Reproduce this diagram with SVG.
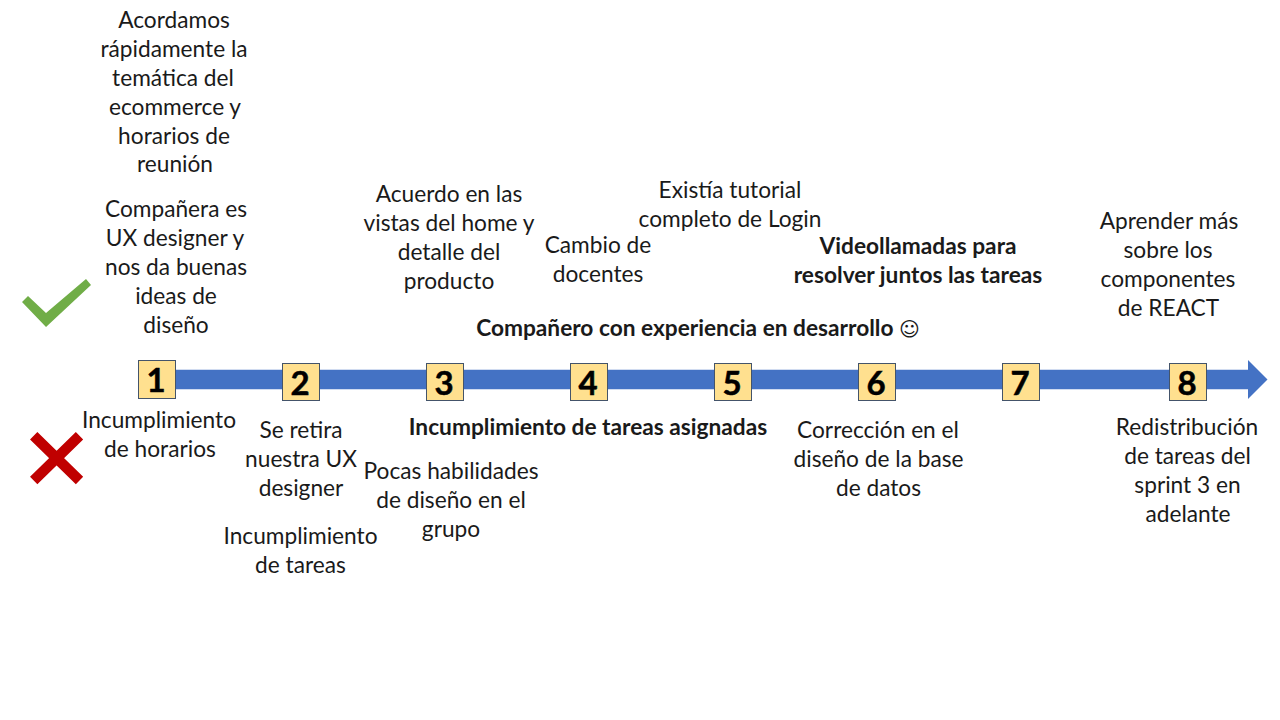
<svg xmlns="http://www.w3.org/2000/svg" width="1280" height="720" viewBox="0 0 1280 720">
<style>
.t{font-family:"Lato","Carlito","Open Sans",sans-serif;font-size:22.7px;fill:#1a1a1a;text-anchor:middle}
.b{font-weight:700}
.box{fill:#ffe08f;stroke:#44546a;stroke-width:1}
.n{font-family:"Lato","Open Sans",sans-serif;font-size:33px;font-weight:700;stroke:#000;stroke-width:.5;fill:#000;text-anchor:middle}
</style>
<rect width="1280" height="720" fill="#fff"/>
<g id="connectors">
<path id="timeline" d="M150 369.7H1248V360L1267.5 379.5L1248 399V389.3H150Z" fill="#4472c4"/>
</g>
<g id="icon-check"><path d="M22 302L28 296L46 313L86 279L91 285L46 327Z" fill="#70ad47"/></g>
<g id="icon-cross"><path d="M33.7 435.8L79.5 480.5M79.5 435.8L33.7 480.5" fill="none" stroke="#c00000" stroke-width="10.5"/></g>
<g id="node-1"><rect class="box" x="138.5" y="360.5" width="37" height="38"/><text class="n" x="156" y="391.5">1</text></g>
<g id="node-2"><rect class="box" x="282.5" y="363.5" width="37" height="37"/><text class="n" x="300" y="394.5">2</text></g>
<g id="node-3"><rect class="box" x="426.5" y="363.5" width="37" height="37"/><text class="n" x="444" y="394.5">3</text></g>
<g id="node-4"><rect class="box" x="570.5" y="363.5" width="37" height="37"/><text class="n" x="588" y="394.5">4</text></g>
<g id="node-5"><rect class="box" x="714.5" y="363.5" width="37" height="37"/><text class="n" x="732" y="394.5">5</text></g>
<g id="node-6"><rect class="box" x="858.5" y="363.5" width="37" height="37"/><text class="n" x="876" y="394.5">6</text></g>
<g id="node-7"><rect class="box" x="1002.5" y="363.5" width="37" height="37"/><text class="n" x="1020" y="394.5">7</text></g>
<g id="node-8"><rect class="box" x="1169.5" y="363.5" width="37" height="37"/><text class="n" x="1187" y="394.5">8</text></g>
<g id="labels" transform="translate(0 .6)">
<text class="t" x="174" y="27">Acordamos</text>
<text class="t" x="174" y="56">rápidamente la</text>
<text class="t" x="173" y="85">temática del</text>
<text class="t" x="175" y="114">ecommerce y</text>
<text class="t" x="174" y="143">horarios de</text>
<text class="t" x="175" y="171">reunión</text>
<text class="t" x="176" y="216">Compañera es</text>
<text class="t" x="175" y="245">UX designer y</text>
<text class="t" x="176" y="274">nos da buenas</text>
<text class="t" x="176" y="303">ideas de</text>
<text class="t" x="176" y="332">diseño</text>
<text class="t" x="449" y="201">Acuerdo en las</text>
<text class="t" x="449" y="230">vistas del home y</text>
<text class="t" x="449" y="259">detalle del</text>
<text class="t" x="449" y="288">producto</text>
<text class="t" x="598" y="252">Cambio de</text>
<text class="t" x="598" y="281">docentes</text>
<text class="t" x="730" y="197">Existía tutorial</text>
<text class="t" x="730" y="226">completo de Login</text>
<text class="t b" x="918" y="253">Videollamadas para</text>
<text class="t b" x="918" y="282">resolver juntos las tareas</text>
<text class="t" x="1169" y="228">Aprender más</text>
<text class="t" x="1168" y="257">sobre los</text>
<text class="t" x="1168" y="286">componentes</text>
<text class="t" x="1168.500" y="315">de REACT</text>
<text class="t b" x="698" y="335">Compañero con experiencia en desarrollo <tspan font-family="DejaVu Sans" font-weight="400" font-size="20">☺</tspan></text>
<text class="t" x="159" y="427">Incumplimiento</text>
<text class="t" x="160" y="456">de horarios</text>
<text class="t" x="301" y="437">Se retira</text>
<text class="t" x="301" y="466">nuestra UX</text>
<text class="t" x="301" y="495">designer</text>
<text class="t" x="300.500" y="543">Incumplimiento</text>
<text class="t" x="300.500" y="572">de tareas</text>
<text class="t b" x="588" y="434">Incumplimiento de tareas asignadas</text>
<text class="t" x="451" y="478">Pocas habilidades</text>
<text class="t" x="451" y="507">de diseño en el</text>
<text class="t" x="451" y="536">grupo</text>
<text class="t" x="878" y="437">Corrección en el</text>
<text class="t" x="878.500" y="466">diseño de la base</text>
<text class="t" x="878.500" y="495">de datos</text>
<text class="t" x="1187" y="434">Redistribución</text>
<text class="t" x="1187.500" y="463">de tareas del</text>
<text class="t" x="1187.500" y="492">sprint 3 en</text>
<text class="t" x="1188" y="521">adelante</text>
</g>
</svg>
